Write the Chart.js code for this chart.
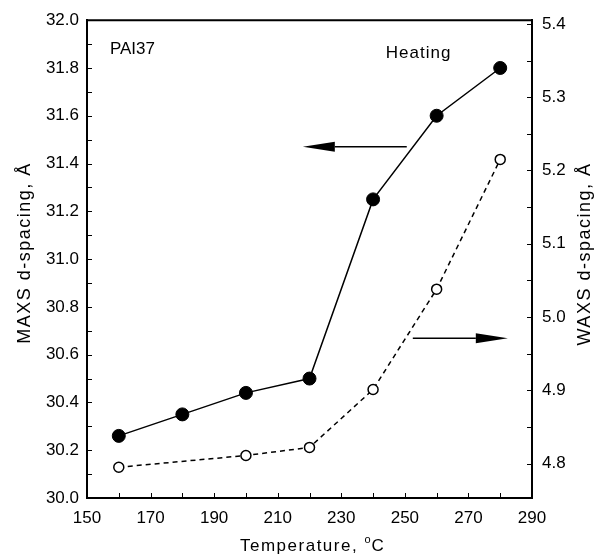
<!DOCTYPE html>
<html><head><meta charset="utf-8">
<script src="https://cdn.jsdelivr.net/npm/chart.js@4"></script>
<style>html,body{margin:0;padding:0;background:#fff;}#wrap{width:595px;height:559px;}</style>
</head><body><div id="wrap"><canvas id="c" width="595" height="559"></canvas></div>
<script>
const maxsTemps = [160, 180, 200, 220, 240, 260, 280];
const maxsValues = [30.26, 30.35, 30.44, 30.50, 31.25, 31.60, 31.80];
const waxsTemps = [160, 200, 220, 240, 260, 280];
const waxsValues = [4.795, 4.811, 4.822, 4.901, 5.038, 5.215];
const xTicks = [150, 170, 190, 210, 230, 250, 270, 290];
const leftTicks = [30.0, 30.2, 30.4, 30.6, 30.8, 31.0, 31.2, 31.4, 31.6, 31.8, 32.0];
const rightTicks = [4.8, 4.9, 5.0, 5.1, 5.2, 5.3, 5.4];
const leftTitle = 'MAXS d-spacing, Å';
const rightTitle = 'WAXS d-spacing, Å';
const xTitleMain = 'Temperature, ';
const xTitleSup = 'o';
const xTitleEnd = 'C';
const sampleLabel = 'PAI37';
const modeLabel = 'Heating';

const FONT = '"Liberation Sans", Arial, sans-serif';

const deco = {
  id: 'deco',
  afterDraw(chart) {
    const ctx = chart.ctx;
    const a = chart.chartArea;
    const x = chart.scales.x, yl = chart.scales.y, yr = chart.scales.y2;
    ctx.save();
    ctx.strokeStyle = '#000';
    ctx.lineWidth = 2;
    ctx.beginPath();
    ctx.moveTo(a.left - 1, a.top); ctx.lineTo(a.right + 1, a.top);
    ctx.stroke();
    ctx.lineWidth = 1;
    // inward ticks
    ctx.beginPath();
    for (let v = 150; v <= 290; v += 10) {
      const px = Math.round(x.getPixelForValue(v)) + 0.5;
      ctx.moveTo(px, a.bottom); ctx.lineTo(px, a.bottom - 5);
    }
    for (let i = 0; i <= 20; i++) {
      const v = 30 + i * 0.1;
      const py = Math.round(yl.getPixelForValue(v)) + 0.5;
      ctx.moveTo(a.left, py); ctx.lineTo(a.left + 5, py);
    }
    for (let i = 0; i <= 12; i++) {
      const v = 4.8 + i * 0.05;
      const py = Math.round(yr.getPixelForValue(v)) + 0.5;
      ctx.moveTo(a.right, py); ctx.lineTo(a.right - 5, py);
    }
    ctx.stroke();

    // arrows
    function arrow(x1, y1, x2, y2) {
      const dir = Math.sign(x2 - x1);
      const headLen = 32, hw = 5;
      ctx.lineWidth = 1.5;
      ctx.beginPath();
      ctx.moveTo(x1, y1); ctx.lineTo(x2 - dir * headLen, y2);
      ctx.stroke();
      ctx.beginPath();
      ctx.moveTo(x2, y2);
      ctx.lineTo(x2 - dir * headLen, y2 - hw);
      ctx.lineTo(x2 - dir * headLen, y2 + hw);
      ctx.closePath();
      ctx.fill();
    }
    ctx.fillStyle = '#000';
    const ly = yl.getPixelForValue(31.47);
    arrow(x.getPixelForValue(250.6), ly, x.getPixelForValue(217.9), ly);
    const ry = yr.getPixelForValue(4.971);
    arrow(x.getPixelForValue(252.5), ry, x.getPixelForValue(282.4), ry);

    // texts
    ctx.fillStyle = '#000';
    ctx.font = '17px ' + FONT;
    ctx.textBaseline = 'middle';
    ctx.textAlign = 'left';
    ctx.fillText(sampleLabel, x.getPixelForValue(157.2), yl.getPixelForValue(31.88));
    ctx.letterSpacing = '1px';
    ctx.fillText(modeLabel, x.getPixelForValue(244.0), yl.getPixelForValue(31.86));

    // axis titles
    ctx.font = '18px ' + FONT;
    ctx.letterSpacing = '1.5px';
    ctx.textAlign = 'center';
    ctx.save();
    ctx.translate(25, 253); ctx.rotate(-Math.PI / 2);
    ctx.fillText(leftTitle, 0, 0);
    ctx.restore();
    ctx.save();
    ctx.translate(585, 254); ctx.rotate(-Math.PI / 2);
    ctx.fillText(rightTitle, 0, 0);
    ctx.restore();
    ctx.textAlign = 'left';
    ctx.textBaseline = 'alphabetic';
    ctx.font = '17px ' + FONT;
    ctx.letterSpacing = '1.5px';
    let tx = 240, ty = 551;
    ctx.fillText(xTitleMain, tx, ty);
    tx += ctx.measureText(xTitleMain).width;
    ctx.font = '11px ' + FONT;
    ctx.letterSpacing = '1px';
    ctx.fillText(xTitleSup, tx, ty - 8);
    tx += ctx.measureText(xTitleSup).width;
    ctx.font = '17px ' + FONT;
    ctx.letterSpacing = '1.5px';
    ctx.fillText(xTitleEnd, tx, ty);
    ctx.restore();
  }
};

new Chart(document.getElementById('c'), {
  type: 'line',
  data: {
    datasets: [
      {
        label: 'MAXS',
        data: maxsTemps.map((t, i) => ({ x: t, y: maxsValues[i] })),
        yAxisID: 'y',
        borderColor: '#000',
        borderWidth: 1.5,
        backgroundColor: '#000',
        pointBackgroundColor: '#000',
        pointBorderColor: '#000',
        pointRadius: 6.5,
        pointBorderWidth: 1,
        tension: 0
      },
      {
        label: 'WAXS',
        data: waxsTemps.map((t, i) => ({ x: t, y: waxsValues[i] })),
        yAxisID: 'y2',
        borderColor: '#000',
        borderWidth: 1.5,
        borderDash: [5, 4],
        pointBackgroundColor: '#fff',
        pointBorderColor: '#000',
        pointRadius: 5,
        pointBorderWidth: 1.5,
        tension: 0
      }
    ]
  },
  options: {
    responsive: false,
    animation: false,
    devicePixelRatio: 1,
    layout: { padding: { top: 15, left: 0, right: 0, bottom: 0 } },
    plugins: { legend: { display: false }, tooltip: { enabled: false } },
    scales: {
      x: {
        type: 'linear', min: 150, max: 290,
        afterBuildTicks: s => { s.ticks = xTicks.map(v => ({ value: v })); },
        afterFit: s => { s.height = 61; },
        grid: { display: false, drawTicks: false },
        border: { display: true, color: '#000', width: 2 },
        ticks: { color: '#000', font: { family: FONT, size: 17 }, padding: 10, maxRotation: 0, autoSkip: false,
                 callback: v => String(v) }
      },
      y: {
        type: 'linear', position: 'left', min: 30, max: 32,
        afterBuildTicks: s => { s.ticks = leftTicks.map(v => ({ value: v })); },
        afterFit: s => { s.width = 87; },
        grid: { display: false, drawTicks: false },
        border: { display: true, color: '#000', width: 2 },
        ticks: { color: '#000', font: { family: FONT, size: 17 }, padding: 8, autoSkip: false,
                 callback: v => Number(v).toFixed(1) }
      },
      y2: {
        type: 'linear', position: 'right', min: 4.753, max: 5.405,
        afterBuildTicks: s => { s.ticks = rightTicks.map(v => ({ value: v })); },
        afterFit: s => { s.width = 63; },
        grid: { display: false, drawTicks: false },
        border: { display: true, color: '#000', width: 2 },
        ticks: { color: '#000', font: { family: FONT, size: 17 }, padding: 10, autoSkip: false,
                 callback: v => Number(v).toFixed(1) }
      }
    }
  },
  plugins: [deco]
});
</script>
</body></html>
